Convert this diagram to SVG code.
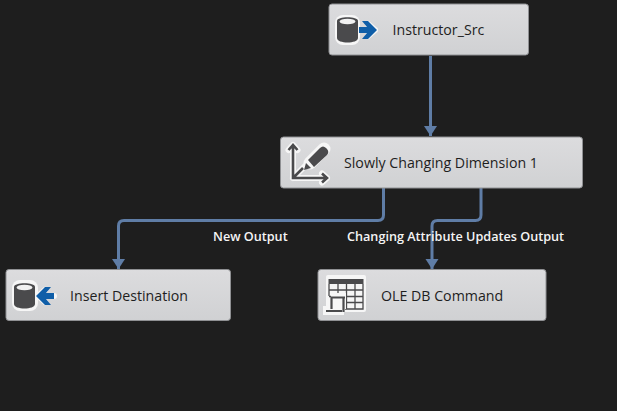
<svg xmlns="http://www.w3.org/2000/svg" width="617" height="411" viewBox="0 0 617 411">
<defs>
<linearGradient id="g" x1="0" y1="0" x2="0" y2="1"><stop offset="0" stop-color="#dcdcde"/><stop offset="1" stop-color="#d0d1d3"/></linearGradient>
<marker id="a" markerUnits="userSpaceOnUse" markerWidth="13" markerHeight="11" refX="6.500" refY="10" orient="0" overflow="visible"><path d="M0 0H13L6.500 10Z" fill="#5f7da6"/></marker>
</defs>
<style>
.n{fill:url(#g);stroke:#8f9093;stroke-width:1}
.t{font:14.200px "Open Sans","Liberation Sans",sans-serif;fill:#1e1e1e}
.l{font:600 12.650px "Open Sans","Liberation Sans",sans-serif;fill:#f4f4f4}
.c{fill:none;stroke:#5f7da6;stroke-width:3}
.dk{fill:#4a4a4c}
.h{fill:#f6f6f6}
.hl{fill:none;stroke:#f6f6f6;stroke-width:6;stroke-linejoin:round;stroke-linecap:round}
.ln{fill:none;stroke:#4a4a4c;stroke-width:2.600}
</style>
<rect width="617" height="411" fill="#1e1e1e"/>
<g id="connectors">
<path class="c" d="M430.500 56V136" marker-end="url(#a)"/>
<path class="c" d="M383.500 188V215Q383.500 220.500 378 220.500H124Q118.500 220.500 118.500 226V269" marker-end="url(#a)"/>
<path class="c" d="M481 188V215Q481 220.500 475.500 220.500H437.500Q432 220.500 432 226V269" marker-end="url(#a)"/>
</g>
<g id="n1">
<rect class="n" x="329" y="4" width="199.500" height="51" rx="3"/>
<rect class="h" x="335" y="15" width="25" height="30" rx="8"/><path class="hl" d="M358 30H375M368 24L375 30L368 36"/>
<path class="dk" d="M337 21C337 16 358 16 358 21V38C358 44 337 44 337 38Z"/><ellipse cx="347.500" cy="21.500" rx="8" ry="2.800" fill="#f2f2f2"/>
<path fill="#0f5ea8" d="M359 27H367L362 21H368L377 30L368 39H362L367 33H359Z"/>
<text class="t" x="392.500" y="35">Instructor_Src</text>
</g>
<g id="n2">
<rect class="n" x="280.500" y="137" width="302" height="51" rx="3"/>
<path class="hl" d="M293 146V178H327M288.500 150L293 145L297.500 150M322 173.500L327 178L322 182.500M293 178L307 164M307 164L323 148"/>
<path class="hl" style="stroke-width:13" d="M310 163L324 149"/>
<path class="ln" d="M293 146V178H327M288.500 150L293 145L297.500 150M322 173.500L327 178L322 182.500M293 178L303 168"/>
<path class="dk" d="M308 160L320 148Q323 145 326 148L327 149Q329.500 152 327 155L314 167Z"/>
<path class="dk" d="M306 163L311 168L304 170Z"/>
<text class="t" x="344" y="168">Slowly Changing Dimension 1</text>
</g>
<g id="n3">
<rect class="n" x="6" y="269.500" width="224.500" height="51" rx="3"/>
<rect class="h" x="12" y="280" width="26" height="31" rx="8"/><path class="hl" d="M54 296H38M45 290L38 296L45 302"/>
<path class="dk" d="M14 287C14 282 35 282 35 287V304C35 310 14 310 14 304Z"/><ellipse cx="24.500" cy="287.500" rx="8" ry="2.800" fill="#f2f2f2"/>
<path fill="#0f5ea8" d="M54 293H46L51 287H45L36 296L45 305H51L46 299H54Z"/>
<text class="t" x="70" y="301">Insert Destination</text>
</g>
<g id="n4">
<rect class="n" x="318" y="269.500" width="228" height="51" rx="3"/>
<rect class="h" x="326" y="275" width="40" height="37" rx="2"/>
<rect class="dk" x="328.500" y="279" width="35" height="5"/>
<path class="ln" style="stroke-width:1.300" d="M329 284V296M363 284V309H345M329 290H363M329 296.500H363M345 302.500H363M338 284V296M346.500 284V309M355 284V309"/>
<path class="h" d="M331 293H346V309H344V315H323V306H331Z"/>
<path class="ln" style="stroke-width:2.200" d="M331.500 309V297.500H345M343.500 298V312M326 311H342"/>
<text class="t" x="381" y="301">OLE DB Command</text>
</g>
<g id="labels">
<text class="l" x="213" y="241">New Output</text>
<text class="l" x="347" y="241">Changing Attribute Updates Output</text>
</g>
</svg>
